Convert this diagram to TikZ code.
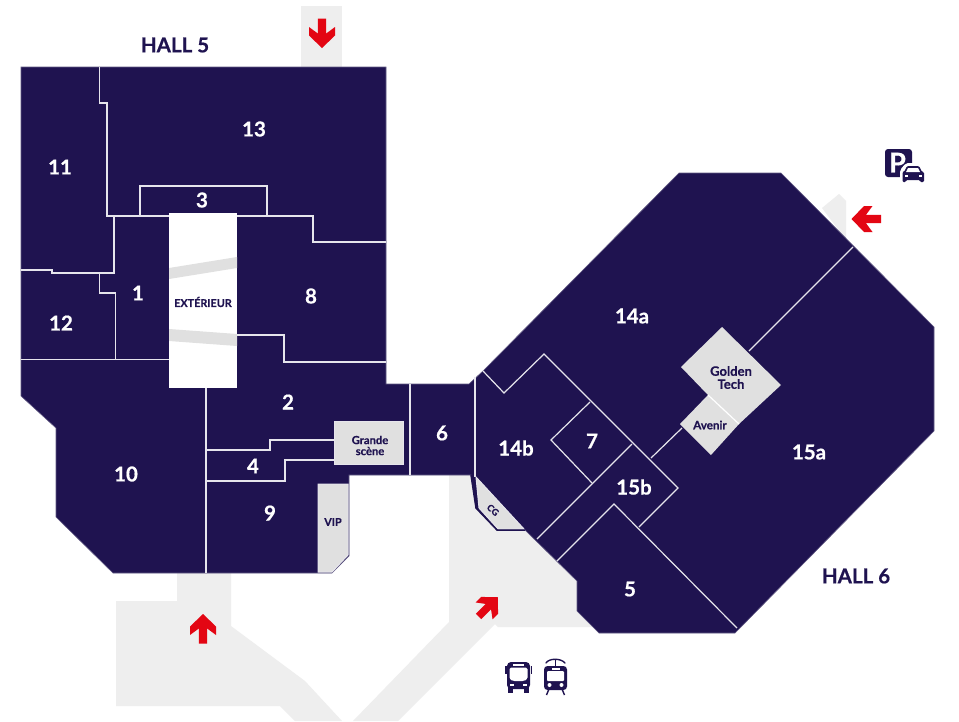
\documentclass[tikz,border=0pt]{standalone}
\usepackage{fontspec}
\setmainfont[BoldFeatures={FakeBold=0.6}]{Lato}
\definecolor{navy}{HTML}{1F1350}
\definecolor{walk}{HTML}{EEEEEE}
\definecolor{panel}{HTML}{E0E0E0}
\definecolor{redarrow}{HTML}{E30613}
\definecolor{wall}{HTML}{E6E5EC}
\tikzset{
  walkway/.style={fill=walk,draw=none},
  hall/.style={fill=navy,draw=navy!70!white,line width=0.6pt,line join=miter},
  partition/.style={draw=wall,line width=1.2pt,line join=miter},
  panelshape/.style={fill=panel,draw=wall,line width=1pt,line join=miter},
  num/.style={text=white,font=\bfseries\fontsize{20.5}{22}\selectfont,inner sep=0pt},
  hallname/.style={text=navy,font=\bfseries\fontsize{20.5}{22}\selectfont,inner sep=0pt},
  small/.style={text=navy,font=\bfseries\fontsize{10.8}{12.5}\selectfont,inner sep=0pt,align=center},
  redmark/.style={fill=redarrow,draw=none},
  icon/.style={fill=navy,draw=none}
}
\newcommand{\redshape}{(0,-15) -- (13,-2.5) -- (13,6) -- (4.2,-0.5) -- (4.2,14.5) -- (-4.2,14.5) -- (-4.2,-0.5) -- (-13,6) -- (-13,-2.5) -- cycle}
\begin{document}
\begin{tikzpicture}[x=1pt,y=-1pt]
\useasboundingbox (0,0) rectangle (959,721);
\fill[white] (0,0) rectangle (959,721);
% walkways
\fill[walkway] (301,6) rectangle (342,68);
\fill[walkway] (822,208) -- (839,194) -- (846,201) -- (846,240) -- cycle;
\fill[walkway] (177,573) -- (231,573) -- (231,626) -- (305,681) -- (342,721) -- (295,721) -- (280,706) -- (116,706) -- (116,601) -- (177,601) -- cycle;
\fill[walkway] (449,474) -- (449,622) -- (353,721) -- (398,721) -- (495,624) -- (498,627) -- (594,627) -- (600,600) -- (530,500) -- (480,474) -- cycle;
% hall outline
\path[hall] (21,67) -- (386,67) -- (386,384) -- (469,384) -- (483,371) -- (679,173) -- (781,173) -- (934,327) -- (934,431) -- (735,633) -- (599,633) -- (577,611) -- (577,581) -- (525,530) -- (497,530) -- (476,508) -- (471,475) -- (349,475) -- (349,556) -- (332,573) -- (113,573) -- (56,517) -- (56,428) -- (21,396) -- cycle;
% exterior
\fill[white] (169,213) rectangle (237,388);
\fill[panel] (169,268) -- (237,257) -- (237,268) -- (169,279) -- cycle;
\fill[panel] (169,329) -- (237,334) -- (237,346) -- (169,341) -- cycle;
% partitions, hall 5
\draw[partition] (99.5,67) -- (99.5,103) -- (107,103) -- (107,216) -- (169,216);
\draw[partition] (114,216) -- (114,273) -- (52,273) -- (52,270) -- (21,270);
\draw[partition] (99.5,273) -- (99.5,293) -- (115.5,293) -- (115.5,359);
\draw[partition] (21,359.5) -- (169,359.5);
\draw[partition] (237,216) -- (313,216) -- (313,242) -- (386,242);
\draw[partition] (140,216) -- (140,186) -- (267,186) -- (267,216);
\draw[partition] (237,335) -- (284,335) -- (284,362) -- (386,362);
\draw[partition] (206,388) -- (206,573);
\draw[partition] (410,384) -- (410,475);
\draw[partition] (206,450) -- (270,450) -- (270,440) -- (334,440);
\draw[partition] (206,481) -- (285,481) -- (285,460) -- (334,460);
% partitions, hall 6
\draw[partition] (475,377) -- (475,477);
\draw[partition] (483,371) -- (504,393) -- (544,354) -- (678,488) -- (639,527);
\draw[partition] (590,402) -- (551,440) -- (592,483);
\draw[partition] (632,444) -- (537,539);
\draw[partition] (557,561) -- (614,504) -- (737,628);
\draw[partition] (651,458) -- (682,428);
\draw[partition] (749,351) -- (853,247);
% panels
\draw[panelshape] (334,421) rectangle (403,464);
\draw[panelshape] (318,484) -- (348,484) -- (348,555) -- (332,572) -- (318,572) -- cycle;
\draw[panelshape] (476,477) -- (524,529) -- (498,529) -- (479,508) -- cycle;
\draw[navy,line width=1.5pt,line join=miter] (471,475) -- (476,508) -- (497,530) -- (525,530);
\fill[panel] (722,327) -- (781,385) -- (739,424) -- (708,395) -- (681,367) -- cycle;
\fill[panel] (708,395) -- (739,424) -- (711,455) -- (680,424) -- cycle;
\draw[white,line width=1.2pt] (708,395) -- (739,424);
% labels
\node[hallname] (hallfive) at (175,45) {HALL 5};
\node[hallname] (hallsix) at (856,576) {HALL 6};
\node[num] (r13) at (254,129) {13};
\node[num] (r11) at (60,167) {11};
\node[num] (r3) at (202,200) {3};
\node[num] (r1) at (138,293) {1};
\node[num] (r8) at (311,296) {8};
\node[num] (r12) at (61,323) {12};
\node[num] (r2) at (288,402) {2};
\node[num] (r4) at (253,466) {4};
\node[num] (r10) at (126,474) {10};
\node[num] (r9) at (270,513) {9};
\node[num] (r6) at (442,433) {6};
\node[num] (r14a) at (632,316) {14a};
\node[num] (r14b) at (516,448) {14b};
\node[num] (r7) at (592,441) {7};
\node[num] (r15b) at (634,487) {15b};
\node[num] (r15a) at (809,452) {15a};
\node[num] (r5) at (630,589) {5};
\node[small] (ext) at (203,302) {EXTÉRIEUR};
\node[small,font=\bfseries\fontsize{11.2}{12.5}\selectfont] (grande) at (370,445.5) {Grande\\[-1.5pt]scène};
\node[small] (vip) at (333,522) {VIP};
\node[small,font=\bfseries\fontsize{9}{10}\selectfont,rotate=-42] (cg) at (493,510) {CG};
\node[small,font=\bfseries\fontsize{13}{14.5}\selectfont] (golden) at (731,377.5) {Golden\\[-1.5pt]Tech};
\node[small,font=\bfseries\fontsize{11.6}{13}\selectfont] (avenir) at (710,425) {Avenir};
% red arrows
\fill[redmark,shift={(322,33)},rotate=180] \redshape;
\fill[redmark,shift={(203,629)}] \redshape;
\fill[redmark,shift={(866.5,219)},rotate=90] \redshape;
\fill[redmark,shift={(488,607)},rotate=-45,scale=0.92] \redshape;
% parking icon
\fill[icon,rounded corners=3pt] (885,149) rectangle (912,177);
\node[text=white,font=\bfseries\fontsize{27}{27}\selectfont,inner sep=0pt] (parkp) at (897.5,162.5) {P};
\fill[white,rounded corners=2pt] (900,170) -- (906,163) -- (921,163) -- (926,170) -- (926,184) -- (900,184) -- cycle;
\fill[icon,rounded corners=1.2pt] (902.5,172) -- (904,172) -- (907,166) -- (919,166) -- (922,172) -- (924,172) -- (924,182) -- (920,182) -- (920,180) -- (906,180) -- (906,182) -- (902.5,182) -- cycle;
\fill[white] (908,168) -- (918,168) -- (920,172) -- (906,172) -- cycle;
\fill[white] (904.5,175) rectangle (907.5,176.5);
\fill[white] (918.5,175) rectangle (921.5,176.5);
% bus icon
\fill[icon,rounded corners=4pt] (507,662) rectangle (530,689);
\fill[icon] (505,666) rectangle (506.5,674);
\fill[icon] (530.5,666) rectangle (532,674);
\fill[icon] (508,688) rectangle (513,692.5);
\fill[icon] (524,688) rectangle (529,692.5);
\fill[white,rounded corners=1.5pt] (509.5,667.5) -- (527.5,667.5) -- (527.5,679) -- (524,681) -- (513,681) -- (509.5,679) -- cycle;
\fill[white] (513,664) rectangle (524,665.5);
\fill[white] (510,684) rectangle (514,685.5);
\fill[white] (523,684) rectangle (527,685.5);
% tram icon
\draw[navy,line width=1.4pt,line cap=round] (546,663) .. controls (549,658) and (561,658) .. (565,663);
\draw[navy,line width=1.2pt] (555.5,659) -- (555.5,667);
\fill[icon,rounded corners=3.5pt] (544,666) rectangle (567,690);
\fill[white,rounded corners=1pt] (547,671) rectangle (564,681);
\fill[white] (551.5,668) rectangle (559.5,669.5);
\fill[white] (549.5,685) circle (2pt);
\fill[white] (561.5,685) circle (2pt);
\draw[navy,line width=1.4pt] (549,689) -- (546.5,695);
\draw[navy,line width=1.4pt] (562,689) -- (564.5,695);
\end{tikzpicture}
\end{document}
